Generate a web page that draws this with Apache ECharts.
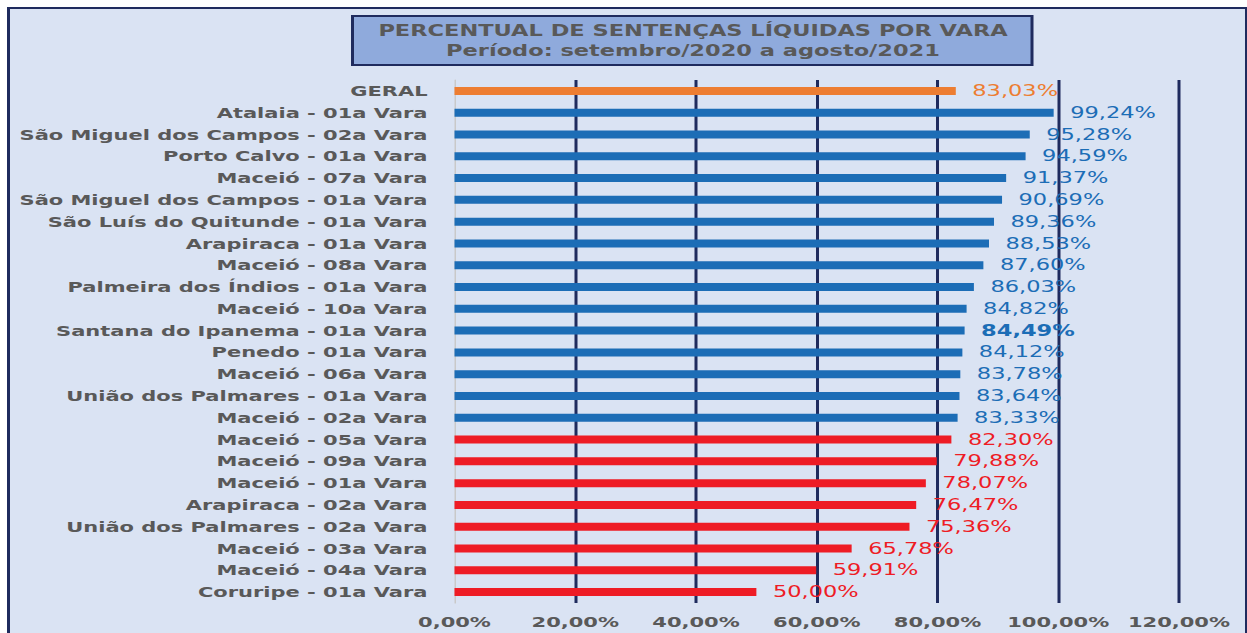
<!DOCTYPE html>
<html>
<head>
<meta charset="utf-8">
<script src="https://cdn.jsdelivr.net/npm/echarts@6/dist/echarts.min.js"></script>
<style>
    html, body { margin: 0; padding: 0; background: #ffffff; overflow: hidden; }
    #frame {
        position: absolute; left: 7px; top: 7px; right: 0; bottom: 0;
        background: #dae3f3;
        border-top: 2px solid #1f2b5e;
        border-left: 3px solid #1f2b5e;
        border-right: 2px solid #1f2b5e;
    }
    /* the source picture is stretched sideways, so draw narrow and widen by 1.5 */
    #main {
        position: absolute; left: 0; top: 0;
        width: 832px; height: 633px;
        transform: scaleX(1.5); transform-origin: 0 0;
    }
</style>
</head>
<body>
<div id="frame"></div>
<div id="main"></div>
<script>
    var categories = [
        "GERAL",
        "Atalaia - 01a Vara",
        "São Miguel dos Campos - 02a Vara",
        "Porto Calvo - 01a Vara",
        "Maceió - 07a Vara",
        "São Miguel dos Campos - 01a Vara",
        "São Luís do Quitunde - 01a Vara",
        "Arapiraca - 01a Vara",
        "Maceió - 08a Vara",
        "Palmeira dos Índios - 01a Vara",
        "Maceió - 10a Vara",
        "Santana do Ipanema - 01a Vara",
        "Penedo - 01a Vara",
        "Maceió - 06a Vara",
        "União dos Palmares - 01a Vara",
        "Maceió - 02a Vara",
        "Maceió - 05a Vara",
        "Maceió - 09a Vara",
        "Maceió - 01a Vara",
        "Arapiraca - 02a Vara",
        "União dos Palmares - 02a Vara",
        "Maceió - 03a Vara",
        "Maceió - 04a Vara",
        "Coruripe - 01a Vara"
    ];
    var percentuais = [
        83.03, 99.24, 95.28, 94.59, 91.37, 90.69, 89.36, 88.53, 87.60, 86.03, 84.82, 84.49,
        84.12, 83.78, 83.64, 83.33, 82.30, 79.88, 78.07, 76.47, 75.36, 65.78, 59.91, 50.00
    ];
    var xTicks = [0, 20, 40, 60, 80, 100, 120];
    var destaque = "Santana do Ipanema - 01a Vara";   // rótulo em negrito

    var corGeral = "#ed7d31", corAcima = "#1c6db6", corAbaixo = "#ee1c25";
    var fonte = "DejaVu Sans";

    function fmt(v) {
        return v.toFixed(2).replace(".", ",") + "%";
    }

    var dados = percentuais.map(function (v, i) {
        var cor = i === 0 ? corGeral : (v > percentuais[0] ? corAcima : corAbaixo);
        return {
            value: v,
            itemStyle: { color: cor },
            label: {
                color: cor,
                fontWeight: categories[i] === destaque ? "bold" : "normal"
            }
        };
    });

    var myChart = echarts.init(document.getElementById("main"), null, { renderer: "svg" });
    myChart.setOption({
        backgroundColor: "transparent",
        animation: false,
        graphic: [{
            type: "group",
            children: [{
                type: "rect",
                shape: { x: 235, y: 16, width: 453, height: 49 },
                style: { fill: "#8faadc", stroke: "#1f2b5e", lineWidth: 2 }
            }, {
                type: "text",
                x: 462, y: 31,
                style: {
                    text: "PERCENTUAL DE SENTENÇAS LÍQUIDAS POR VARA",
                    align: "center", verticalAlign: "middle",
                    font: "bold 15px " + fonte, fill: "#595959"
                }
            }, {
                type: "text",
                x: 462, y: 51,
                style: {
                    text: "Período: setembro/2020 a agosto/2021",
                    align: "center", verticalAlign: "middle",
                    font: "bold 15px " + fonte, fill: "#595959"
                }
            }]
        }],
        grid: { left: 303, top: 80, width: 483, bottom: 30 },
        xAxis: {
            type: "value",
            min: xTicks[0],
            max: xTicks[xTicks.length - 1],
            interval: xTicks[1] - xTicks[0],
            axisLine: { show: false },
            axisTick: { show: false },
            axisLabel: {
                margin: 12,
                color: "#595959",
                fontFamily: fonte,
                fontWeight: "bold",
                fontSize: 14,
                formatter: fmt
            },
            splitLine: {
                show: true,
                showMinLine: false,
                lineStyle: { color: "#1f2b5e", width: 2 }
            }
        },
        yAxis: {
            type: "category",
            inverse: true,
            data: categories,
            axisLine: { show: true, lineStyle: { color: "#c9c9c9", width: 1 } },
            axisTick: { show: false },
            axisLabel: {
                margin: 18,
                color: "#595959",
                fontFamily: fonte,
                fontWeight: "bold",
                fontSize: 14
            }
        },
        series: [{
            type: "bar",
            barWidth: 8,
            data: dados,
            label: {
                show: true,
                position: "right",
                distance: 11,
                fontFamily: fonte,
                fontSize: 15,
                formatter: function (p) { return fmt(p.value); }
            }
        }]
    });
</script>
</body>
</html>
